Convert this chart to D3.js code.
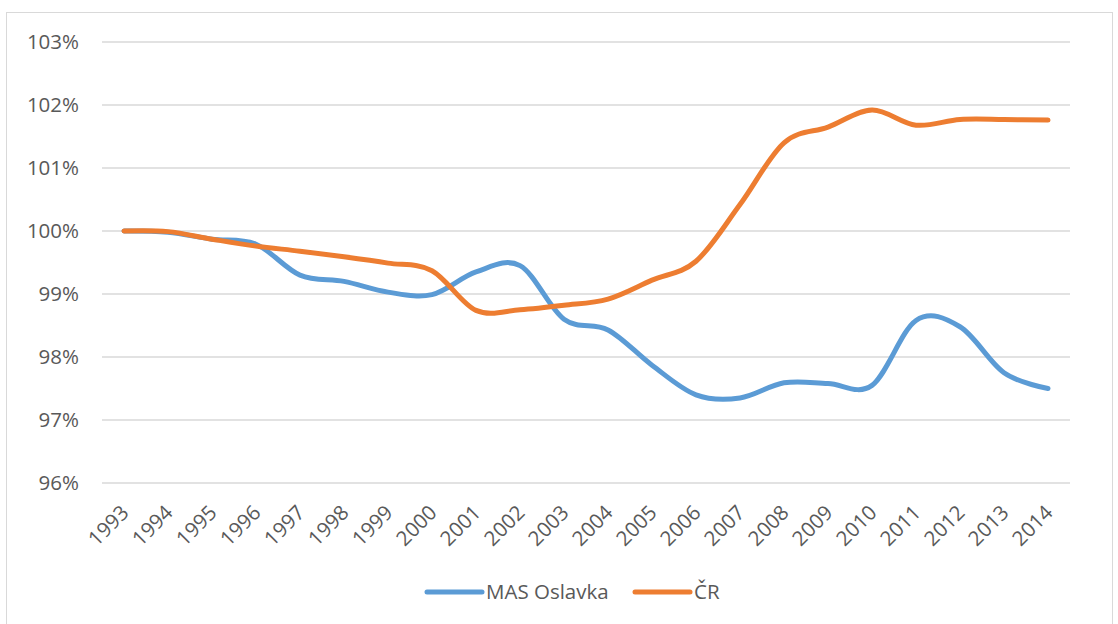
<!DOCTYPE html>
<html>
<head>
<meta charset="utf-8">
<script src="https://cdn.jsdelivr.net/npm/d3@7"></script>
<style>
  body { margin: 0; background: #fff; }
  text { font-family: "Open Sans", "Noto Sans", sans-serif; fill: #595959; }
</style>
</head>
<body>
<svg id="chart" width="1118" height="624"></svg>
<script>
const years = ["1993", "1994", "1995", "1996", "1997", "1998", "1999", "2000", "2001", "2002", "2003",
               "2004", "2005", "2006", "2007", "2008", "2009", "2010", "2011", "2012", "2013", "2014"];
const masOslavka = [100.0, 99.98, 99.87, 99.79, 99.3, 99.2, 99.03, 98.99, 99.35, 99.45, 98.6,
                    98.43, 97.87, 97.4, 97.35, 97.59, 97.58, 97.55, 98.58, 98.48, 97.75, 97.5];
const cr = [100.0, 99.99, 99.87, 99.76, 99.68, 99.59, 99.49, 99.37, 98.74, 98.75, 98.82,
            98.92, 99.22, 99.52, 100.42, 101.4, 101.65, 101.92, 101.68, 101.77, 101.77, 101.76];
const yTicks = [96, 97, 98, 99, 100, 101, 102, 103];
const seriesNames = ["MAS Oslavka", "ČR"];

const svg = d3.select("#chart");
const width = 1118, height = 624;
const margin = { top: 42, right: 48, bottom: 141, left: 102 };

// chart frame
svg.append("rect")
    .attr("x", 6.5).attr("y", 12.5)
    .attr("width", 1106).attr("height", 640)
    .attr("fill", "none").attr("stroke", "#d9d9d9");

const x = d3.scaleBand()
    .domain(years)
    .range([margin.left, width - margin.right]);

const y = d3.scaleLinear()
    .domain([96, 103])
    .range([height - margin.bottom, margin.top]);

const color = d3.scaleOrdinal()
    .domain(seriesNames)
    .range(["#5b9bd5", "#ed7d31"]);

// gridlines
svg.append("g")
    .selectAll("line")
    .data(yTicks)
    .enter().append("line")
    .attr("x1", margin.left).attr("x2", width - margin.right)
    .attr("y1", d => y(d)).attr("y2", d => y(d))
    .attr("stroke", "#d9d9d9").attr("stroke-width", 1.3);

// y labels
svg.append("g")
    .selectAll("text")
    .data(yTicks)
    .enter().append("text")
    .attr("x", 79)
    .attr("y", d => y(d))
    .attr("dy", "0.36em")
    .attr("text-anchor", "end")
    .attr("font-size", 20.5)
    .text(d => d + "%");

// x labels
svg.append("g")
    .selectAll("text")
    .data(years)
    .enter().append("text")
    .attr("transform", d => `translate(${x(d) + x.bandwidth() / 2 + 6},${y(96) + 31}) rotate(-45)`)
    .attr("text-anchor", "end")
    .attr("font-size", 20.5)
    .text(d => d);

const line = d3.line()
    .x((d, i) => x(years[i]) + x.bandwidth() / 2)
    .y(d => y(d))
    .curve(d3.curveCardinal.tension(0));

[masOslavka, cr].forEach((values, k) => {
    svg.append("path")
        .datum(values)
        .attr("d", line)
        .attr("fill", "none")
        .attr("stroke", color(seriesNames[k]))
        .attr("stroke-width", 5)
        .attr("stroke-linecap", "round")
        .attr("stroke-linejoin", "round");
});

// legend
const legendPos = [427, 635];
const legend = svg.append("g")
    .selectAll("g")
    .data(seriesNames)
    .enter().append("g")
    .attr("transform", (d, i) => `translate(${legendPos[i]},592)`);

legend.append("line")
    .attr("x1", 0).attr("x2", 55)
    .attr("stroke", d => color(d))
    .attr("stroke-width", 5)
    .attr("stroke-linecap", "round");

legend.append("text")
    .attr("x", 59)
    .attr("dy", "0.36em")
    .attr("font-size", 20.5)
    .text(d => d);
</script>
</body>
</html>
